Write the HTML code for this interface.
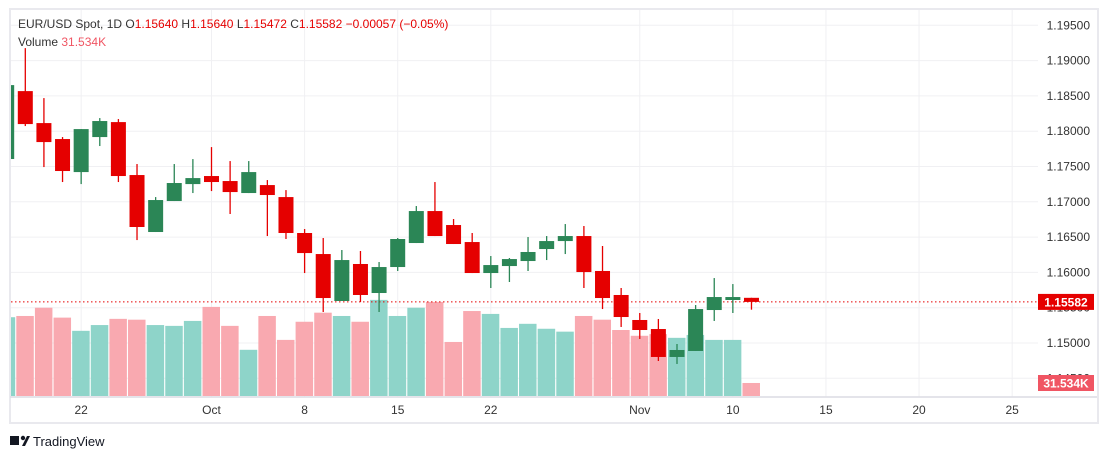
<!DOCTYPE html>
<html><head><meta charset="utf-8"><style>
body{margin:0;background:#fff;font-family:"Liberation Sans",sans-serif;}
svg text{font-family:"Liberation Sans",sans-serif;}
</style></head><body>
<svg id="c" width="1108" height="459" xmlns="http://www.w3.org/2000/svg">
<rect x="0" y="0" width="1108" height="459" fill="#fff"/>
<rect x="10" y="9" width="1088" height="414" fill="#fff" stroke="#e9e9ee" stroke-width="2"/>
<g id="grid"></g>
<g id="vol"></g>
<g id="candles"></g>
<line x1="10" y1="397" x2="1097" y2="397" stroke="#dcdce3" stroke-width="1.5"/>
<g id="axis"></g>
<text x="18" y="28" font-size="12" fill="#333">EUR/USD Spot, 1D  O<tspan fill="#e50000">1.15640</tspan>  H<tspan fill="#e50000">1.15640</tspan>  L<tspan fill="#e50000">1.15472</tspan>  C<tspan fill="#e50000">1.15582</tspan>  <tspan fill="#e50000">−0.00057 (−0.05%)</tspan></text>
<text x="18" y="46" font-size="12" fill="#333">Volume  <tspan fill="#f05563">31.534K</tspan></text>
<g>
<rect x="10" y="436" width="9" height="9" fill="#131722"/><circle cx="23" cy="438" r="2.2" fill="#131722"/><path d="M22 446 L27 436 L30 436 L25 446Z" fill="#131722"/>
<text x="33" y="446" font-size="13" fill="#131722">TradingView</text></g>
</svg>
<script>
const dates=["Sep16","Sep17","Sep18","Sep19","Sep22","Sep23","Sep24","Sep25","Sep26","Sep29","Sep30","Oct1","Oct2","Oct3","Oct6","Oct7","Oct8","Oct9","Oct10","Oct13","Oct14","Oct15","Oct16","Oct17","Oct20","Oct21","Oct22","Oct23","Oct24","Oct27","Oct28","Oct29","Oct30","Oct31","Nov3","Nov4","Nov5","Nov6","Nov7","Nov10","Nov11"];
const opens=[1.17606,1.18568,1.18115,1.17889,1.17421,1.17917,1.18129,1.17379,1.16572,1.17011,1.17251,1.17365,1.17294,1.17124,1.17237,1.17067,1.16558,1.16260,1.15595,1.16119,1.15708,1.16076,1.16416,1.16869,1.16671,1.16430,1.15991,1.16090,1.16161,1.16331,1.16444,1.16515,1.16020,1.15680,1.15326,1.15198,1.14802,1.14887,1.15467,1.15609,1.15640];
const highs=[1.18653,1.19177,1.18469,1.17917,1.18030,1.18186,1.18172,1.17535,1.17067,1.17535,1.17605,1.17775,1.17577,1.17577,1.17308,1.17166,1.16614,1.16487,1.16317,1.16303,1.16147,1.16487,1.16940,1.17280,1.16756,1.16558,1.16232,1.16204,1.16501,1.16515,1.16685,1.16657,1.16374,1.15779,1.15425,1.15340,1.14986,1.15538,1.15920,1.15835,1.15640];
const lows=[1.17606,1.18073,1.17492,1.17280,1.17251,1.17790,1.17280,1.16458,1.16572,1.17011,1.17124,1.17152,1.16827,1.17124,1.16515,1.16473,1.15991,1.15439,1.15595,1.15581,1.15439,1.16020,1.16416,1.16515,1.16402,1.15991,1.15779,1.15864,1.16020,1.16175,1.16260,1.15779,1.15481,1.15227,1.15057,1.14745,1.14703,1.14887,1.15312,1.15425,1.15472];
const closes=[1.18653,1.18101,1.17846,1.17436,1.18030,1.18144,1.17365,1.16643,1.17025,1.17266,1.17336,1.17280,1.17138,1.17421,1.17096,1.16558,1.16274,1.15637,1.16175,1.15680,1.16076,1.16473,1.16869,1.16515,1.16402,1.15991,1.16104,1.16189,1.16289,1.16444,1.16515,1.16005,1.15637,1.15368,1.15184,1.14802,1.14901,1.15481,1.15651,1.15651,1.15582];
const volumes=[191,194,214,190,158,172,187,185,172,170,182,216,170,112,194,136,180,202,194,180,233,194,214,228,131,206,199,165,175,163,156,194,185,160,146,150,141,148,136,136,31.534];
const priceTicks=[1.195,1.19,1.185,1.18,1.175,1.17,1.165,1.16,1.155,1.15,1.145];
const timeLabels=["22","Oct","8","15","22","Nov","10","15","20","25"];
const timeIdx=[4,11,16,21,26,34,39,44,49,54];

const NS="http://www.w3.org/2000/svg";
const DX=18.62;
const xOf=i=>25.3+(i-1)*DX;
const yOf=p=>343-(p-1.15)*7060;
const vOf=v=>396-v*0.4125;
function mk(tag,attrs,parent){const e=document.createElementNS(NS,tag);for(const k in attrs)e.setAttribute(k,attrs[k]);document.getElementById(parent).appendChild(e);return e;}
const cp=mk("clipPath",{id:"plot"},"grid");
const cr=document.createElementNS(NS,"rect");cr.setAttribute("x",11);cr.setAttribute("y",10);cr.setAttribute("width",1027);cr.setAttribute("height",387);cp.appendChild(cr);
priceTicks.forEach(p=>{const y=yOf(p);
 const l=mk("line",{x1:11,x2:1038,y1:y,y2:y,stroke:"#f0f0f3"},"grid");
 
 
 const t=mk("text",{x:1090,y:y+4,"font-size":12,fill:"#333","text-anchor":"end"},"axis");t.textContent=p.toFixed(5);
 
 });
timeLabels.forEach((s,k)=>{const x=xOf(timeIdx[k]);
 const l=mk("line",{x1:x,x2:x,y1:10,y2:397,stroke:"#f0f0f3"},"grid");
 
 
 const t=mk("text",{x:x,y:414,"font-size":12,fill:"#333","text-anchor":"middle"},"axis");t.textContent=s;
 
 });
document.getElementById("vol").setAttribute("clip-path","url(#plot)");
document.getElementById("candles").setAttribute("clip-path","url(#plot)");
volumes.forEach((v,i)=>{const up=closes[i]>=opens[i];const x=xOf(i);
 const r=mk("rect",{x:x-9,y:vOf(v),width:17.5,height:396-vOf(v),fill:up?"#8ed4c9":"#f9a9b0"},"vol");
 
 });
const ly=yOf(closes[closes.length-1]);
const dl=mk("line",{x1:11,x2:1038,y1:ly,y2:ly,stroke:"#e50000","stroke-dasharray":"1.5 2.5"},"candles");


dates.forEach((d,i)=>{const up=closes[i]>=opens[i];const c=up?"#2b8656":"#e50000";const x=xOf(i);
 const w=mk("line",{x1:x,x2:x,y1:yOf(highs[i]),y2:yOf(lows[i]),stroke:c,"stroke-width":1.3},"candles");
 
 
 const t=yOf(Math.max(opens[i],closes[i])),b=yOf(Math.min(opens[i],closes[i]));
 const r=mk("rect",{x:x-7.5,y:t,width:15,height:Math.max(1,b-t),fill:c},"candles");
 
 });
const pb=mk("rect",{x:1038,y:ly-8,width:56,height:16,fill:"#e50000"},"axis");


const pt=mk("text",{x:1066,y:ly+4.5,"font-size":12,fill:"#fff","text-anchor":"middle","font-weight":"bold"},"axis");pt.textContent=closes[closes.length-1].toFixed(5);


const vb=mk("rect",{x:1038,y:375,width:56,height:16,fill:"#f05563"},"axis");


const vt=mk("text",{x:1066,y:387.5,"font-size":12,fill:"#fff","text-anchor":"middle","font-weight":"bold"},"axis");vt.textContent=volumes[volumes.length-1].toFixed(3)+"K";


</script>
</body></html>
